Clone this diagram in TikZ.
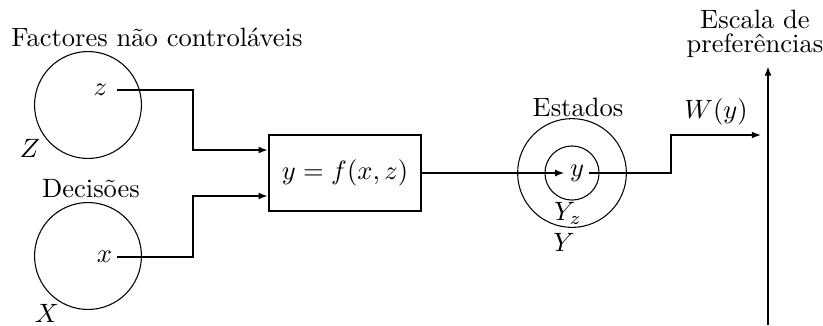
\documentclass[tikz,border=0pt]{standalone}
\usepackage{fontspec}
\usepackage{tikz}
\usetikzlibrary{arrows.meta,calc,positioning}
\tikzset{
  pxgrid/.style={x=0.377pt,y=-0.377pt},
  setcircle/.style={circle,draw,line width=0.4pt,inner sep=0pt,minimum size=40.3pt},
  funcbox/.style={draw,line width=0.7pt,minimum width=57.3pt,minimum height=28.7pt,inner sep=0pt},
  flowline/.style={line width=0.75pt},
  flowarrow/.style={flowline,-{Latex[length=3.6pt,width=2.6pt]}},
  tag/.style={inner sep=1pt}
}

\begin{document}
\begin{tikzpicture}[pxgrid]
  \useasboundingbox (0,0) rectangle (823,325);
  % inputs
  \node[setcircle] (Zset) at (88,105) {};
  \node[setcircle] (Xset) at (88,256) {};
  \node[tag] (Ztitle) at (157,37) {Factores não controláveis};
  \node[tag] (Xtitle) at (91,189) {Decisões};
  \node[tag] (Zname) at (30,148) {$Z$};
  \node[tag] (Xname) at (47,313) {$X$};
  \node[anchor=east,inner xsep=3.5pt] (zpt) at (117,90) {$z$};
  \node[anchor=east,inner xsep=1.7pt] (xpt) at (117,257) {$x$};
  % system
  \node[funcbox] (fbox) at (345,173) {$y=f(x,z)$};
  \coordinate (zbend) at (193,150);
  \coordinate (xbend) at (193,196);
  \coordinate (zin) at (fbox.west |- zbend);
  \coordinate (xin) at (fbox.west |- xbend);
  \draw[flowarrow] (zpt.east) -| (zbend) -- (zin);
  \draw[flowarrow] (xpt.east) -| (xbend) -- (xin);
  % states
  \node[setcircle,minimum size=41pt] (Yset) at (572,173) {};
  \node[setcircle,minimum size=20.4pt] (Yzset) at (572,173) {};
  \node[inner xsep=1.8pt] (ypt) at (577,173) {$y$};
  \node[tag] (Ytitle) at (578,107) {Estados};
  \node[tag] (Yzname) at (568,213) {$Y_z$};
  \node[tag] (Yname) at (564,242) {$Y$};
  \draw[flowarrow] (fbox.east) -- (fbox.east -| ypt.west);
  % preferences
  \coordinate (wbend) at (671,135);
  \coordinate (axbot) at (768,325);
  \coordinate (axtop) at (768,66);
  \coordinate (wend) at ([xshift=-2.5pt]axbot |- wbend);
  \draw[flowarrow] (ypt.east) -| (wbend) -- (wend);
  \draw[flowarrow] (axbot) -- (axtop);
  \node[tag] (wlabel) at (716,112) {$W(y)$};
  \node[tag,align=center] (scale) at (755,34) {Escala de\\[-3pt]preferências};
\end{tikzpicture}
\end{document}
